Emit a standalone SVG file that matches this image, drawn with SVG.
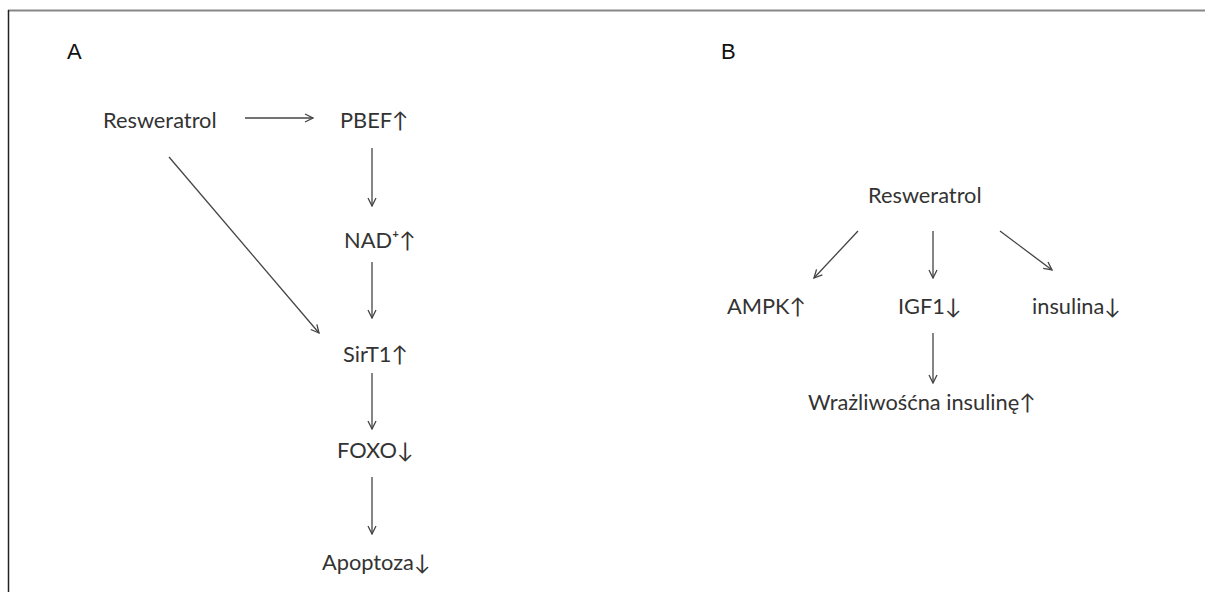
<svg xmlns="http://www.w3.org/2000/svg" width="1205" height="592" viewBox="0 0 1205 592">
<style>
.t{font-family:Lato,"Open Sans","Liberation Sans",sans-serif;font-size:21.8px;fill:#333}
.lbl{font-family:"Liberation Sans",Arial,sans-serif;font-size:22px;fill:#111}
.c{stroke:#444;stroke-width:1.3;fill:none;marker-end:url(#ah)}
</style>
<defs>
<marker id="ah" viewBox="0 0 10 10" refX="9" refY="5" markerWidth="10" markerHeight="10" markerUnits="userSpaceOnUse" orient="auto">
<path d="M1,1 L9,5 L1,9" fill="none" stroke="#444" stroke-width="1.3"/>
</marker>
</defs>
<rect width="1205" height="592" fill="#fff"/>
<line x1="8" y1="10.5" x2="1205" y2="10.5" stroke="#888" stroke-width="2"/>
<line x1="8.5" y1="10" x2="8.5" y2="592" stroke="#222" stroke-width="1.5"/>
<text class="lbl" x="67" y="59">A</text>
<text class="lbl" x="721" y="59">B</text>
<g id="connectors">
<line class="c" x1="245" y1="118" x2="313" y2="118"/>
<line class="c" x1="372" y1="148" x2="372" y2="206"/>
<line class="c" x1="372" y1="262" x2="372" y2="318"/>
<line class="c" x1="169" y1="157" x2="319" y2="333"/>
<line class="c" x1="372" y1="373" x2="372" y2="429"/>
<line class="c" x1="372" y1="477" x2="372" y2="534"/>
<line class="c" x1="858" y1="231" x2="814" y2="278"/>
<line class="c" x1="933" y1="231" x2="933" y2="278"/>
<line class="c" x1="1000" y1="231" x2="1052" y2="270"/>
<line class="c" x1="933" y1="333" x2="933" y2="383"/>
</g>
<g id="a-resweratrol"><text class="t" x="103" y="128">Resweratrol</text></g>
<g id="a-pbef"><text class="t" x="340" y="128">PBEF↑</text></g>
<g id="a-nad"><text class="t" x="344" y="248">NAD⁺↑</text></g>
<g id="a-sirt1"><text class="t" x="343" y="362">SirT1↑</text></g>
<g id="a-foxo"><text class="t" x="337" y="458">FOXO↓</text></g>
<g id="a-apoptoza"><text class="t" x="322" y="570">Apoptoza↓</text></g>
<g id="b-resweratrol"><text class="t" x="868" y="203">Resweratrol</text></g>
<g id="b-ampk"><text class="t" x="727" y="314">AMPK↑</text></g>
<g id="b-igf1"><text class="t" x="898" y="314">IGF1↓</text></g>
<g id="b-insulina"><text class="t" x="1032" y="314">insulina↓</text></g>
<g id="b-wrazliwosc"><text class="t" x="808" y="410">Wrażliwośćna insulinę↑</text></g>
</svg>
